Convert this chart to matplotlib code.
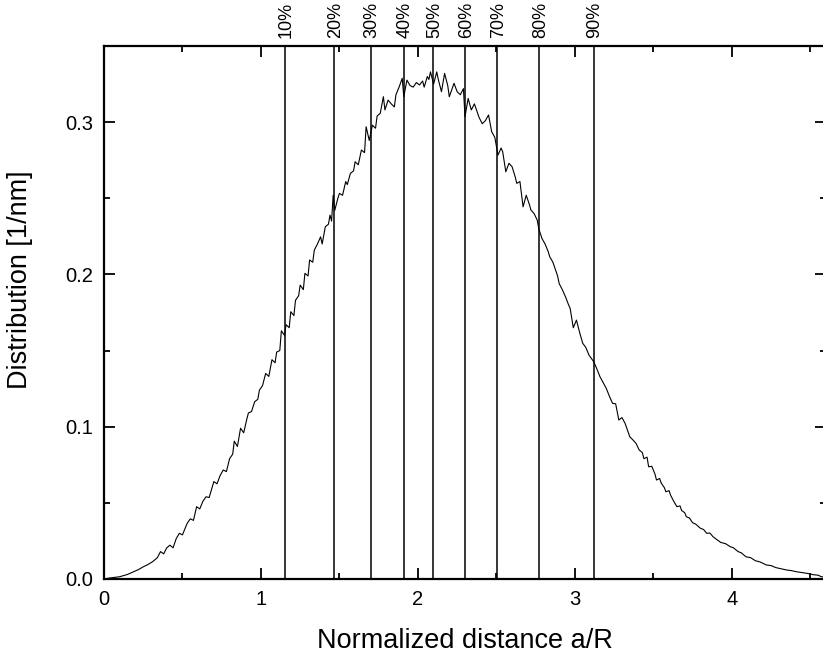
import matplotlib
matplotlib.use("Agg")
import matplotlib.pyplot as plt
from matplotlib.ticker import MultipleLocator, FormatStrFormatter

# values
distance = [
    0.00, 0.04, 0.10, 0.15, 0.19, 0.22, 0.25, 0.28, 0.31, 0.34, 0.36, 0.38, 0.40, 0.42, 0.44,
    0.46, 0.48, 0.50, 0.53, 0.55, 0.57, 0.59, 0.61, 0.63, 0.65, 0.67, 0.70, 0.72, 0.74, 0.76,
    0.78, 0.80, 0.82, 0.83, 0.85, 0.87, 0.89, 0.91, 0.92, 0.94, 0.96, 0.98, 0.99, 1.01, 1.03,
    1.05, 1.07, 1.09, 1.10, 1.12, 1.13, 1.15, 1.16, 1.18, 1.19, 1.21, 1.22, 1.24, 1.25, 1.27,
    1.28, 1.30, 1.31, 1.33, 1.34, 1.36, 1.38, 1.39, 1.41, 1.43, 1.44, 1.45, 1.46, 1.47, 1.49,
    1.50, 1.52, 1.54, 1.55, 1.57, 1.59, 1.60, 1.62, 1.64, 1.66, 1.67, 1.69, 1.71, 1.73, 1.74,
    1.76, 1.78, 1.79, 1.81, 1.83, 1.85, 1.86, 1.88, 1.90, 1.91, 1.93, 1.95, 1.97, 1.99, 2.01,
    2.03, 2.04, 2.06, 2.07, 2.08, 2.10, 2.12, 2.13, 2.15, 2.16, 2.17, 2.19, 2.20, 2.23, 2.25,
    2.27, 2.29, 2.30, 2.32, 2.34, 2.36, 2.37, 2.39, 2.41, 2.43, 2.45, 2.47, 2.49, 2.51, 2.53,
    2.54, 2.56, 2.58, 2.60, 2.62, 2.63, 2.65, 2.67, 2.69, 2.71, 2.72, 2.74, 2.76, 2.77, 2.79,
    2.81, 2.83, 2.84, 2.86, 2.87, 2.89, 2.90, 2.92, 2.94, 2.96, 2.97, 2.99, 3.01, 3.03, 3.05,
    3.07, 3.09, 3.12, 3.14, 3.16, 3.18, 3.20, 3.22, 3.24, 3.26, 3.28, 3.30, 3.32, 3.35, 3.37,
    3.39, 3.41, 3.43, 3.44, 3.46, 3.47, 3.49, 3.51, 3.52, 3.54, 3.55, 3.57, 3.58, 3.60, 3.61,
    3.63, 3.65, 3.67, 3.68, 3.70, 3.71, 3.73, 3.75, 3.77, 3.80, 3.82, 3.84, 3.86, 3.88, 3.90,
    3.93, 3.96, 3.99, 4.01, 4.04, 4.06, 4.09, 4.12, 4.15, 4.18, 4.22, 4.25, 4.28, 4.31, 4.35,
    4.38, 4.41, 4.45, 4.48, 4.52, 4.55, 4.57, 4.60,
]
distribution = [
    0.0000, 0.0007, 0.0015, 0.0030, 0.0048, 0.0062, 0.0080, 0.0095, 0.0114, 0.0140, 0.0180, 0.0165, 0.0205, 0.0222, 0.0205,
    0.0265, 0.0300, 0.0290, 0.0366, 0.0395, 0.0385, 0.0475, 0.0460, 0.0510, 0.0540, 0.0535, 0.0640, 0.0625, 0.0680, 0.0716,
    0.0705, 0.0790, 0.0820, 0.0905, 0.0870, 0.0990, 0.0960, 0.1050, 0.1090, 0.1100, 0.1164, 0.1180, 0.1240, 0.1270, 0.1350,
    0.1330, 0.1440, 0.1420, 0.1490, 0.1500, 0.1630, 0.1600, 0.1670, 0.1650, 0.1755, 0.1730, 0.1830, 0.1860, 0.1930, 0.1900,
    0.2007, 0.1990, 0.2095, 0.2080, 0.2160, 0.2200, 0.2247, 0.2200, 0.2313, 0.2330, 0.2390, 0.2350, 0.2520, 0.2420, 0.2500,
    0.2532, 0.2520, 0.2610, 0.2590, 0.2664, 0.2680, 0.2740, 0.2720, 0.2817, 0.2800, 0.2970, 0.2880, 0.2980, 0.2960, 0.3040,
    0.3058, 0.3167, 0.3080, 0.3145, 0.3120, 0.3100, 0.3180, 0.3230, 0.3288, 0.3167, 0.3276, 0.3240, 0.3230, 0.3260, 0.3244,
    0.3270, 0.3230, 0.3300, 0.3280, 0.3330, 0.3250, 0.3330, 0.3280, 0.3200, 0.3260, 0.3320, 0.3240, 0.3167, 0.3255, 0.3200,
    0.3180, 0.3220, 0.3036, 0.3156, 0.3080, 0.3120, 0.3090, 0.3030, 0.2990, 0.3010, 0.3047, 0.2937, 0.2900, 0.2784, 0.2830,
    0.2806, 0.2674, 0.2730, 0.2707, 0.2640, 0.2598, 0.2610, 0.2444, 0.2520, 0.2460, 0.2423, 0.2400, 0.2357, 0.2300, 0.2237,
    0.2200, 0.2150, 0.2116, 0.2080, 0.2050, 0.1990, 0.1940, 0.1900, 0.1854, 0.1800, 0.1777, 0.1650, 0.1700, 0.1620, 0.1548,
    0.1520, 0.1470, 0.1427, 0.1380, 0.1328, 0.1290, 0.1252, 0.1200, 0.1154, 0.1150, 0.1044, 0.1060, 0.1022, 0.0934, 0.0913,
    0.0890, 0.0847, 0.0830, 0.0790, 0.0800, 0.0737, 0.0740, 0.0690, 0.0650, 0.0660, 0.0630, 0.0600, 0.0573, 0.0580, 0.0550,
    0.0510, 0.0475, 0.0480, 0.0450, 0.0435, 0.0409, 0.0400, 0.0370, 0.0360, 0.0333, 0.0325, 0.0300, 0.0302, 0.0278, 0.0262,
    0.0240, 0.0232, 0.0212, 0.0205, 0.0180, 0.0172, 0.0146, 0.0140, 0.0120, 0.0112, 0.0092, 0.0088, 0.0075, 0.0068, 0.0059,
    0.0055, 0.0048, 0.0042, 0.0037, 0.0028, 0.0025, 0.0015, 0.0012,
]

# percentile markers
pct_positions = [1.153, 1.467, 1.700, 1.911, 2.099, 2.300, 2.507, 2.773, 3.120]
pct_labels = ['10%', '20%', '30%', '40%', '50%', '60%', '70%', '80%', '90%']

plt.rcParams['font.family'] = ['Liberation Sans', 'DejaVu Sans']

fig = plt.figure(figsize=(8.23, 6.56), dpi=100)
ax = fig.add_axes([104 / 823, 1 - 579 / 656, 722 / 823, 533 / 656])

ax.plot(distance, distribution, color='black', lw=0.8)
for xp, lab in zip(pct_positions, pct_labels):
    ax.axvline(xp, color='black', lw=1.1)
    ax.annotate(lab, xy=(xp, 1.0), xycoords=('data', 'axes fraction'),
                xytext=(1, 6), textcoords='offset points',
                rotation=90, ha='center', va='bottom', fontsize=13)

ax.set_xlim(0, 4.6)
ax.set_ylim(0, 0.35)
ax.xaxis.set_major_locator(MultipleLocator(1))
ax.xaxis.set_minor_locator(MultipleLocator(0.5))
ax.yaxis.set_major_locator(MultipleLocator(0.1))
ax.yaxis.set_minor_locator(MultipleLocator(0.05))
ax.xaxis.set_major_formatter(FormatStrFormatter('%d'))
ax.yaxis.set_major_formatter(FormatStrFormatter('%.1f'))

ax.tick_params(which='both', direction='in', top=True, right=True, width=1.3, labelsize=14.5)
ax.tick_params(which='major', length=8, pad=8)
ax.tick_params(which='minor', length=4.5)
for sp in ax.spines.values():
    sp.set_linewidth(1.6)

ax.set_xlabel('Normalized distance a/R', fontsize=19.5)
ax.set_ylabel('Distribution [1/nm]', fontsize=19.5)
ax.xaxis.set_label_coords(0.5, -0.092)
ax.yaxis.set_label_coords(-0.098, 0.561)

plt.savefig('out.png', dpi=100)
plt.close()
